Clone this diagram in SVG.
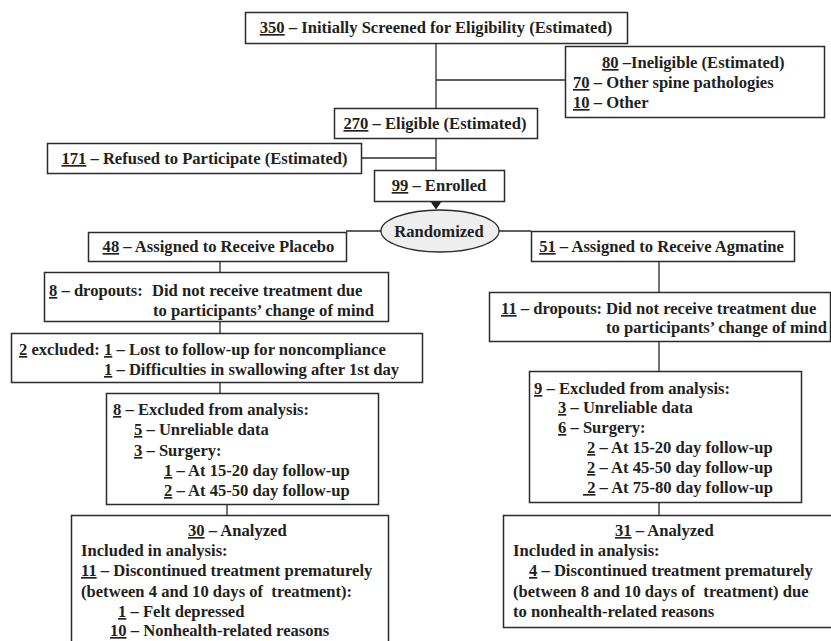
<svg xmlns="http://www.w3.org/2000/svg" width="831" height="641" viewBox="0 0 831 641">
<style>
.b{fill:#fff;stroke:#2b2b2b;stroke-width:1.5}
.c{stroke:#2b2b2b;stroke-width:1.3;fill:none}
text{font-family:"Liberation Serif","Times New Roman",serif;font-weight:bold;font-size:16.6px;fill:#231f20}
.m{text-anchor:middle}
.u{text-decoration:underline}
</style>
<rect width="831" height="641" fill="#fff"/>
<g id="connectors">
<path class="c" d="M436 43V108M436 80H565M436 138V170M361 158H436"/>
<path class="c" d="M381 231H346M499 231H531"/>
<path class="c" d="M220 261V272M220 322V333M220 382V393M227 504V515"/>
<path class="c" d="M659 261V292M659 341V371M659 502V515"/>
<polygon points="430,201 442,201 436,209.5" fill="#231f20"/>
</g>
<g id="screened">
<rect class="b" x="245.5" y="12.5" width="382" height="31"/>
<text class="m" x="436" y="33"><tspan class="u">350</tspan> – Initially Screened for Eligibility (Estimated)</text>
</g>
<g id="ineligible">
<rect class="b" x="565.5" y="46.5" width="259" height="71"/>
<text x="602" y="68"><tspan class="u">80</tspan> –Ineligible (Estimated)</text>
<text x="573" y="88"><tspan class="u">70</tspan> – Other spine pathologies</text>
<text x="573" y="108"><tspan class="u">10</tspan> – Other</text>
</g>
<g id="eligible">
<rect class="b" x="334.5" y="108.5" width="203" height="30"/>
<text class="m" x="435" y="129"><tspan class="u">270</tspan> – Eligible (Estimated)</text>
</g>
<g id="refused">
<rect class="b" x="47.5" y="143.5" width="314" height="30"/>
<text class="m" x="204.5" y="164"><tspan class="u">171</tspan> – Refused to Participate (Estimated)</text>
</g>
<g id="enrolled">
<rect class="b" x="374.5" y="170.5" width="130" height="31"/>
<text class="m" x="439" y="191"><tspan class="u">99</tspan> – Enrolled</text>
</g>
<g id="randomized">
<ellipse cx="440" cy="231" rx="59" ry="21" fill="#eeeeee" stroke="#2b2b2b" stroke-width="1.3"/>
<text class="m" x="439" y="237">Randomized</text>
</g>
<g id="placebo">
<rect class="b" x="88.5" y="232.5" width="258" height="29"/>
<text class="m" x="218.5" y="252"><tspan class="u">48</tspan> – Assigned to Receive Placebo</text>
</g>
<g id="agmatine">
<rect class="b" x="531.5" y="231.5" width="263" height="30"/>
<text class="m" x="661.5" y="252"><tspan class="u">51</tspan> – Assigned to Receive Agmatine</text>
</g>
<g id="dropouts-placebo">
<rect class="b" x="44.5" y="272.5" width="344" height="49"/>
<text x="49" y="296"><tspan class="u">8</tspan> – dropouts: <tspan x="152">Did not receive treatment due</tspan></text>
<text x="153" y="316">to participants’ change of mind</text>
</g>
<g id="excluded-placebo">
<rect class="b" x="11.5" y="333.5" width="411" height="49"/>
<text x="19" y="355"><tspan class="u">2</tspan> excluded: <tspan x="104" class="u">1</tspan> – Lost to follow-up for noncompliance</text>
<text x="104" y="375"><tspan class="u">1</tspan> – Difficulties in swallowing after 1st day</text>
</g>
<g id="analysis-excluded-placebo">
<rect class="b" x="106.5" y="393.5" width="272" height="111"/>
<text x="113" y="415"><tspan class="u">8</tspan> – Excluded from analysis:</text>
<text x="134" y="435"><tspan class="u">5</tspan> – Unreliable data</text>
<text x="134" y="456"><tspan class="u">3</tspan> – Surgery:</text>
<text x="164" y="476"><tspan class="u">1</tspan> – At 15-20 day follow-up</text>
<text x="164" y="496"><tspan class="u">2</tspan> – At 45-50 day follow-up</text>
</g>
<g id="analyzed-placebo">
<rect class="b" x="71.5" y="515.5" width="317" height="140"/>
<text x="188" y="536"><tspan class="u">30</tspan> – Analyzed</text>
<text x="81" y="556">Included in analysis:</text>
<text x="81" y="576"><tspan class="u">11</tspan> – Discontinued treatment prematurely</text>
<text x="81" y="597">(between 4 and 10 days of&#160; treatment):</text>
<text x="118" y="617"><tspan class="u">1</tspan> – Felt depressed</text>
<text x="110" y="636"><tspan class="u">10</tspan> – Nonhealth-related reasons</text>
</g>
<g id="dropouts-agmatine">
<rect class="b" x="489.5" y="292.5" width="341" height="49"/>
<text x="501" y="314"><tspan class="u">11</tspan> – dropouts: <tspan x="606">Did not receive treatment due</tspan></text>
<text x="606" y="333">to participants’ change of mind</text>
</g>
<g id="analysis-excluded-agmatine">
<rect class="b" x="529.5" y="371.5" width="272" height="131"/>
<text x="534" y="394"><tspan class="u">9</tspan> – Excluded from analysis:</text>
<text x="558" y="413"><tspan class="u">3</tspan> – Unreliable data</text>
<text x="558" y="433"><tspan class="u">6</tspan> – Surgery:</text>
<text x="587" y="453"><tspan class="u">2</tspan> – At 15-20 day follow-up</text>
<text x="587" y="473"><tspan class="u">2</tspan> – At 45-50 day follow-up</text>
<text x="583" y="493"><tspan class="u">&#160;2</tspan> – At 75-80 day follow-up</text>
</g>
<g id="analyzed-agmatine">
<rect class="b" x="503.5" y="515.5" width="335" height="112"/>
<text x="615" y="536"><tspan class="u">31</tspan> – Analyzed</text>
<text x="513" y="556">Included in analysis:</text>
<text x="529" y="576"><tspan class="u">4</tspan> – Discontinued treatment prematurely</text>
<text x="513" y="597">(between 8 and 10 days of&#160; treatment) due</text>
<text x="513" y="617">to nonhealth-related reasons</text>
</g>
</svg>
